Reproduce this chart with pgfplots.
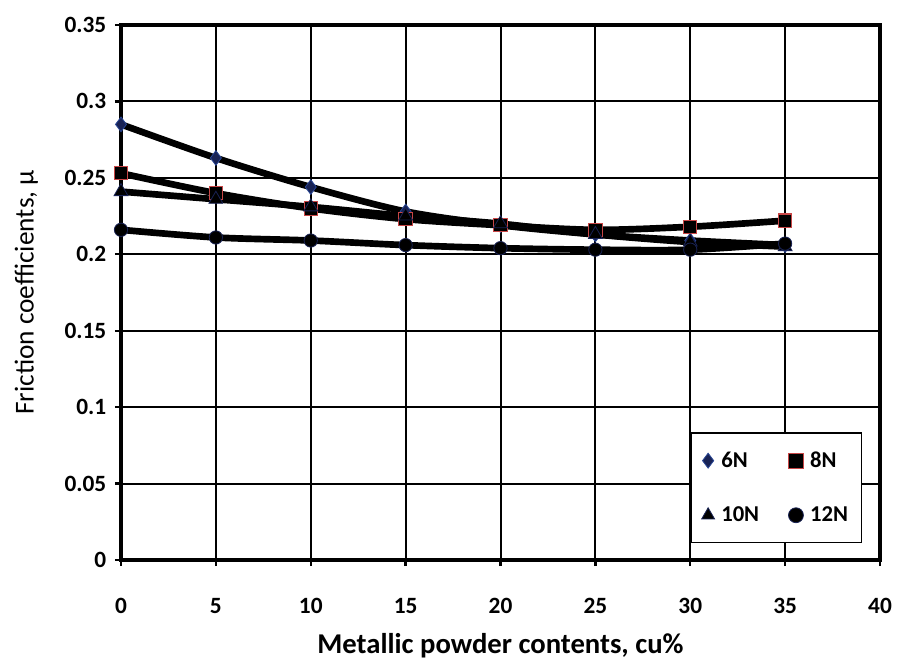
\documentclass[border=0pt]{standalone}
\usepackage{fontspec}
\setmainfont{Carlito}
\usepackage{pgfplots}
\pgfplotsset{compat=1.18}
\definecolor{navy}{RGB}{25,35,85}
\definecolor{mkblue}{RGB}{40,70,150}
\definecolor{mkred}{RGB}{200,70,70}
\begin{document}
\begin{tikzpicture}
\begin{axis}[
  scale only axis,
  width=569.25pt, height=401.25pt,
  xmin=0, xmax=40, ymin=0, ymax=0.35,
  xtick={0,5,...,40},
  ytick={0,0.05,...,0.35},
  yticklabels={0,0.05,0.1,0.15,0.2,0.25,0.3,0.35},
  grid=major,
  major grid style={black, line width=1.5pt},
  axis line style={black, line width=3pt},
  tick style={black, line width=1.8pt},
  tick align=outside,
  major tick length=4.5pt,
  xtick pos=bottom, ytick pos=left,
  /pgf/number format/assume math mode=true,
  ticklabel style={font=\fontsize{17.5}{20}\selectfont\bfseries},
  xticklabel style={anchor=center, yshift=-30pt},
  yticklabel style={anchor=east, xshift=-3pt},
  xlabel={Metallic powder contents, cu\%},
  ylabel={Friction coefficients, μ},
  xlabel style={font=\fontsize{21.5}{24}\selectfont\bfseries, at={(axis description cs:0.5,0)}, anchor=center, yshift=-64pt},
  ylabel style={font=\fontsize{20.5}{24}\selectfont, at={(axis description cs:0,0.5)}, anchor=center, yshift=71pt},
  legend style={at={(1,0)}, anchor=south east, xshift=-13.5pt, yshift=12.75pt, draw=black, line width=1pt,
    font=\fontsize{17}{20}\selectfont\bfseries, inner xsep=8pt, inner ysep=12pt,
    row sep=24pt, column sep=3pt,
    /tikz/every even column/.append style={column sep=20pt}},
  legend cell align=left,
  legend columns=2,
  legend image code/.code={\draw[#1, mark size=5.6pt] plot coordinates {(0.15cm,0cm)};},
]
\addplot[black, line width=5pt, smooth, mark=diamond*, mark size=5.5pt,
  mark options={fill=navy, draw=mkblue, line width=0.6pt}]
 coordinates {(0,0.285)(5,0.263)(10,0.244)(15,0.228)(20,0.219)(25,0.213)(30,0.209)(35,0.206)};
\addlegendentry{6N}
\addplot[black, line width=5pt, smooth, mark=square*, mark size=5pt,
  mark options={fill=black, draw=mkred, line width=0.8pt}]
 coordinates {(0,0.253)(5,0.240)(10,0.230)(15,0.223)(20,0.219)(25,0.216)(30,0.218)(35,0.222)};
\addlegendentry{8N}
\addplot[black, line width=5pt, smooth, mark=triangle*, mark size=6pt,
  mark options={fill=black, draw=navy, line width=0.6pt}]
 coordinates {(0,0.241)(5,0.236)(10,0.231)(15,0.225)(20,0.220)(25,0.213)(30,0.208)(35,0.205)};
\addlegendentry{10N}
\addplot[black, line width=5pt, smooth, mark=*, mark size=5pt,
  mark options={fill=black, draw=navy, line width=0.6pt}]
 coordinates {(0,0.216)(5,0.211)(10,0.209)(15,0.206)(20,0.204)(25,0.203)(30,0.203)(35,0.207)};
\addlegendentry{12N}
\end{axis}
\pgfresetboundingbox
\useasboundingbox ([xshift=-90.75pt,yshift=-79.5pt]current axis.south west) rectangle ([xshift=12.75pt,yshift=18.75pt]current axis.north east);
\end{tikzpicture}
\end{document}
